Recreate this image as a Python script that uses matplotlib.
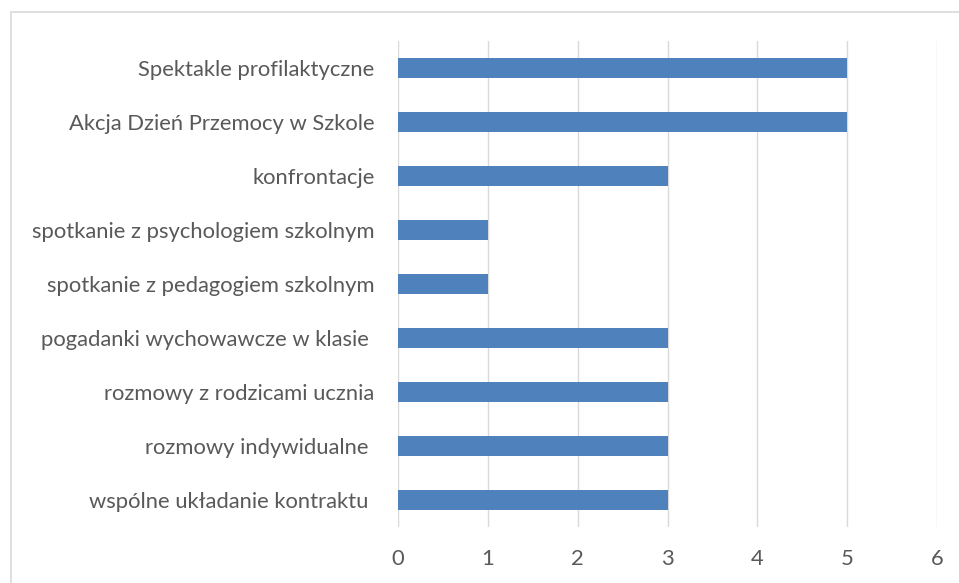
import matplotlib
matplotlib.use("Agg")
import matplotlib.pyplot as plt
from matplotlib.patches import Rectangle

categories = [
    "Spektakle profilaktyczne",
    "Akcja Dzień Przemocy w Szkole",
    "konfrontacje",
    "spotkanie z psychologiem szkolnym",
    "spotkanie z pedagogiem szkolnym",
    "pogadanki wychowawcze w klasie ",
    "rozmowy z rodzicami ucznia",
    "rozmowy indywidualne ",
    "wspólne układanie kontraktu ",
]
values = [5, 5, 3, 1, 1, 3, 3, 3, 3]
xticks = [0, 1, 2, 3, 4, 5, 6]

plt.rcParams['font.family'] = ['Lato', 'DejaVu Sans']
W, H = 959, 583
fig = plt.figure(figsize=(W / 100, H / 100), dpi=100)
ax = fig.add_axes([398 / W, 1 - 527 / H, (937 - 398) / W, (527 - 41) / H])

y = list(range(len(categories)))[::-1]
ax.barh(y, values, height=0.36, color="#4F81BD", zorder=3)
ax.set_ylim(-0.5, len(categories) - 0.5)
ax.set_xlim(0, 6)
ax.set_xticks(xticks)
ax.set_xticklabels([str(t) for t in xticks])
ax.set_yticks(y)
ax.set_yticklabels(categories)
ax.tick_params(axis='both', length=0, labelsize=15.8, colors="#595959")
ax.tick_params(axis='y', pad=17)
ax.tick_params(axis='x', pad=16)
ax.grid(axis='x', color="#D9D9D9", linewidth=1, zorder=0)
for s in ax.spines.values():
    s.set_visible(False)

fig.patches.append(Rectangle((11 / W, -0.1), 1.2, 1 - 12 / H + 0.1,
                             transform=fig.transFigure, fill=False,
                             edgecolor="#D9D9D9", linewidth=1.2))
fig.savefig("out.png", dpi=100)
